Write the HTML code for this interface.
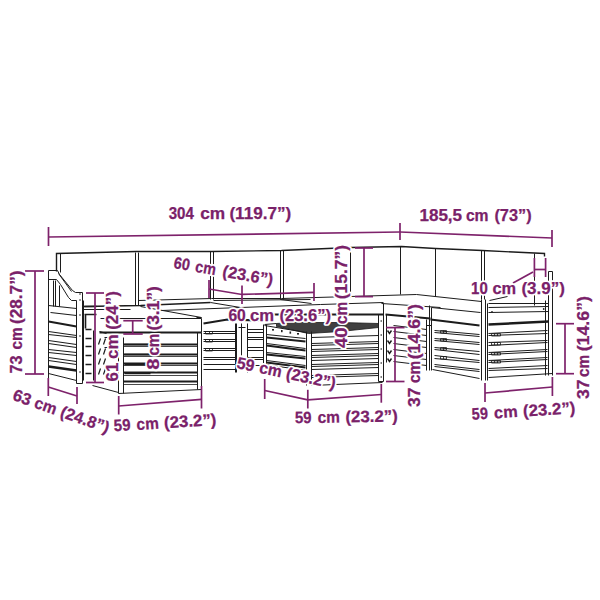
<!DOCTYPE html>
<html><head><meta charset="utf-8"><style>
html,body{margin:0;padding:0;background:#fff;width:600px;height:600px;overflow:hidden}
svg{display:block;opacity:0.999}
text{font-family:"Liberation Sans",sans-serif;font-weight:bold;font-size:16.5px;fill:#7a2169;stroke-linejoin:round}
.h{stroke:#fff;stroke-width:3.6px;fill:#fff}
.f{stroke:#7a2169;stroke-width:0.25px}
</style></head><body>
<svg width="600" height="600" viewBox="0 0 600 600">

<g fill="none" stroke="#1c1c1c" stroke-width="1" stroke-linecap="butt">
<!-- back cushions -->
<path d="M 56.5 271.5 V 253.5 L 136.5 251.5 L 211.5 251.5 L 281.5 250.5 L 350.5 247.5 L 401.5 246.5 L 435.5 248.5 L 482.5 250.5 L 544.5 253.5 V 256.5" stroke-width="1.4"/>
<path d="M 60.5 253.5 V 272.5"/>
<path d="M 135.5 252.5 V 305.5 M 138.5 252.5 V 305.5 M 210.5 251.5 V 299.5 M 213.5 251.5 V 299.5 M 280.5 250.5 V 299.5 M 283.5 250.5 V 299.5 M 350.5 247.5 V 297.5 M 400.5 246.5 V 294.5 M 435.5 248.5 V 296.5 M 481.5 250.5 V 299.5 M 484.5 250.5 V 299.5 M 534.5 253.5 V 305.5"/>
<path d="M 138.5 300.5 L 211.5 298.5 L 281.5 298.5 L 350.5 296.5 L 416.5 294.5 L 481.5 301.5"/>
<path d="M 213.5 300.5 L 310.5 299.5"/>
<!-- seat back lines -->
<path d="M 83.5 306.5 L 140.5 305.5 L 210.5 302.5" stroke-width="1.3"/>
<path d="M 210.5 302.5 L 240.5 307.5 M 280.5 299.5 L 311.5 303.5 M 161.5 310.5 L 320.5 304.5 L 383.5 302.5"/>

<!-- P1 left armrest piece -->
<path d="M 48.5 383.5 V 270.5 H 57.5 L 59.5 274.5 L 72.5 290.5 L 75.5 292.5 H 82.5 V 383.5 H 76.5 V 300.5"/>
<path d="M 58.5 273.5 L 71.5 291.5"/>
<path d="M 48.5 279.5 H 56.5 L 60.5 284.5 L 68.5 297.5 L 71.5 300.5 H 76.5"/>
<path d="M 53.5 280.5 V 306.5 M 55.5 280.5 V 306.5 M 59.5 285.5 V 306.5"/>
<path d="M 48.5 373.5 L 76.5 380.5"/>
<g stroke-width="1.1">
<path d="M 48.5 305.5 L 76.5 308.5 M 50.5 312.5 L 76.5 315.5"/>
<path d="M 48.5 321.5 L 76.5 326.5" stroke-width="2.2"/>
<path d="M 48.5 331.5 L 76.5 335.5 M 48.5 334.5 L 76.5 337.5"/>
<path d="M 48.5 340.5 L 76.5 344.5 M 48.5 343.5 L 76.5 347.5"/>
<path d="M 48.5 349.5 L 76.5 352.5 M 48.5 352.5 L 76.5 355.5"/>
<path d="M 48.5 357.5 L 76.5 361.5 M 48.5 360.5 L 76.5 364.5"/>
<path d="M 48.5 366.5 L 76.5 370.5" stroke-width="2.6"/>
</g>
<g fill="#222" stroke="none"><circle cx="80" cy="294" r="0.8"/><circle cx="80" cy="300" r="0.8"/><circle cx="80" cy="315" r="0.8"/><circle cx="80" cy="336" r="0.8"/><circle cx="80" cy="372" r="0.8"/></g>
<!-- piece behind post -->
<path d="M 83.5 300.5 V 380.5 M 93.5 330.5 V 380.5"/>
<g stroke-width="1.6"><path d="M 84.5 306.5 H 96.5 M 84.5 314.5 H 96.5 M 85.5 329.5 H 91.5 M 85.5 338.5 H 91.5 M 85.5 346.5 H 91.5 M 85.5 355.5 H 91.5 M 85.5 364.5 H 91.5 M 85.5 373.5 H 91.5 M 85.5 314.5 V 328.5"/></g>
<!-- ottoman cushion -->
<path d="M 83.5 309.5 L 130.5 309.5 M 140.5 306.5 L 201.5 317.5"/>
<path d="M 100.5 318.5 H 201.5 V 332.5"/>
<path d="M 99.5 332.5 H 201.5" stroke-width="2.2"/>
<!-- ottoman left side (oblique slats) -->
<path d="M 92.5 385.5 L 118.5 392.5"/>
<g stroke-width="1.2"><path d="M 99.5 331.5 L 106.5 333.5 M 98.5 344.5 L 100.5 338.5 M 103.5 344.5 L 105.5 338.5 M 98.5 354.5 L 100.5 348.5 M 103.5 354.5 L 105.5 348.5 M 98.5 364.5 L 100.5 358.5 M 103.5 364.5 L 105.5 358.5 M 98.5 374.5 L 100.5 368.5 M 103.5 374.5 L 105.5 368.5 M 104.5 337.5 H 107.5 M 104.5 347.5 H 107.5"/></g>
<!-- ottoman frame -->
<path d="M 118.5 337.5 V 393.5 M 123.5 337.5 V 393.5 M 197.5 332.5 V 389.5 M 201.5 332.5 V 389.5 M 118.5 393.5 L 201.5 389.5"/>
<g stroke-width="1">
<path d="M 123.5 344.5 H 197.5 M 123.5 354.5 H 197.5 M 123.5 363.5 H 197.5 M 123.5 372.5 H 197.5 M 123.5 381.5 H 197.5" stroke-width="1.8"/>
<path d="M 123.5 346.5 H 197.5 M 123.5 356.5 H 197.5 M 123.5 365.5 H 197.5 M 123.5 375.5 H 197.5 M 123.5 384.5 H 197.5" stroke-width="0.8"/>
<path d="M 124.5 344.5 H 150.5 M 124.5 354.5 H 150.5 M 124.5 364.5 H 150.5 M 124.5 373.5 H 150.5" stroke-width="1.6"/>
</g>
<!-- middle piece front -->
<path d="M 203.5 323.5 L 227.5 319.5 L 262.5 320.5" stroke-width="2.2"/>
<path d="M 196.5 317.5 H 201.5 M 235.5 323.5 V 372.5 M 236.5 323.5 V 372.5 M 247.5 323.5 V 372.5 M 241.5 323.5 V 355.5 M 238.5 327.5 H 245.5"/>
<g stroke-width="1">
<path d="M 203.5 331.5 H 235.5 M 203.5 333.5 H 235.5 M 203.5 339.5 H 235.5 M 203.5 341.5 H 235.5 M 203.5 348.5 H 235.5 M 203.5 350.5 H 235.5 M 203.5 357.5 H 235.5 M 203.5 359.5 H 235.5 M 203.5 364.5 H 235.5 M 203.5 369.5 H 235.5"/>
<path d="M 247.5 329.5 H 263.5 M 247.5 332.5 H 263.5 M 247.5 337.5 H 263.5 M 247.5 339.5 H 263.5 M 247.5 347.5 H 263.5 M 247.5 350.5 H 263.5 M 247.5 357.5 H 263.5 M 247.5 359.5 H 263.5 M 247.5 365.5 H 263.5"/>
</g>
<g stroke-width="0.8"><path d="M 205.5 331.5 h 7 v 2.5 h -7 z M 209.5 331.5 v 2.5 M 205.5 339.5 h 7 v 2.5 h -7 z M 209.5 339.5 v 2.5 M 205.5 348.5 h 7 v 2.5 h -7 z M 209.5 348.5 v 2.5"/></g>
<!-- middle seat cushion front behind table -->
<path d="M 262.5 314.5 H 383.5" stroke-width="2"/>
<!-- coffee table -->
<path d="M 276.5 323.5 L 290.5 322.5 L 340.5 322.5 L 378.5 323.5 L 378.5 327.5 L 340.5 331.5 L 308.5 333.5 L 290.5 329.5 L 276.5 326.5 Z" fill="#404040" stroke-width="0.8"/>
<path d="M 264.5 324.5 L 276.5 323.5 M 264.5 325.5 L 306.5 332.5"/>
<path d="M 263.5 324.5 V 364.5 M 266.5 324.5 V 364.5 M 306.5 331.5 V 385.5 M 311.5 331.5 V 385.5 M 264.5 364.5 L 306.5 370.5 M 311.5 385.5 L 382.5 382.5 M 378.5 314.5 V 381.5 M 378.5 381.5 H 383.5"/>

<g fill="#222" stroke="none"><rect x="272" y="329" width="2" height="1.6"/><rect x="281" y="330" width="1.6" height="2.2"/><rect x="289.5" y="331.5" width="1.6" height="2.2"/><rect x="297" y="333" width="2" height="1.6"/></g>
<g stroke-width="1">
<path d="M 266.5 334.5 L 305.5 338.5 M 266.5 343.5 L 305.5 348.5 M 266.5 352.5 L 305.5 356.5 M 266.5 360.5 L 305.5 365.5"/>
<path d="M 266.5 337.5 L 305.5 341.5 M 266.5 345.5 L 305.5 350.5 M 266.5 354.5 L 305.5 358.5 M 266.5 362.5 L 305.5 367.5" stroke-width="1.8"/>
<path d="M 311.5 337.5 L 378.5 335.5 M 311.5 343.5 L 378.5 341.5 M 311.5 345.5 L 378.5 343.5 M 311.5 349.5 L 378.5 347.5 M 311.5 351.5 L 378.5 349.5 M 311.5 355.5 L 378.5 353.5 M 311.5 357.5 L 378.5 355.5 M 311.5 360.5 L 378.5 358.5 M 311.5 364.5 L 378.5 362.5 M 311.5 366.5 L 378.5 364.5 M 311.5 369.5 L 378.5 367.5 M 311.5 375.5 L 378.5 373.5 M 311.5 377.5 L 378.5 375.5"/>
</g>
<!-- corner piece (x 383-430) -->
<path d="M 381.5 303.5 L 440.5 307.5"/>
<path d="M 385.5 314.5 L 430.5 318.5" stroke-width="2"/>
<path d="M 383.5 303.5 V 381.5 M 386.5 314.5 V 362.5 M 426.5 319.5 V 370.5 M 429.5 305.5 V 370.5 M 431.5 307.5 V 370.5 M 426.5 325.5 H 431.5"/>
<g fill="#222" stroke="none"><circle cx="381.2" cy="321" r="0.8"/><circle cx="381.2" cy="335" r="0.8"/><circle cx="381.2" cy="349" r="0.8"/><circle cx="381.2" cy="363" r="0.8"/><circle cx="381.2" cy="377" r="0.8"/></g>
<g stroke-width="1.4"><path d="M 387.5 330.5 L 389.5 333.5 L 391.5 330.5 M 387.5 340.5 L 389.5 343.5 L 391.5 340.5 M 387.5 350.5 L 389.5 353.5 L 391.5 350.5 M 387.5 358.5 L 389.5 361.5 L 391.5 358.5"/></g>
<g stroke-width="1"><path d="M 393.5 325.5 L 426.5 329.5 M 393.5 331.5 L 426.5 335.5 M 393.5 337.5 L 426.5 341.5 M 393.5 343.5 L 426.5 347.5 M 393.5 349.5 L 426.5 353.5 M 393.5 355.5 L 426.5 359.5 M 393.5 361.5 L 426.5 365.5"/></g>
<!-- middle-right piece x431-480 -->
<path d="M 431.5 307.5 L 480.5 312.5"/>
<path d="M 430.5 319.5 L 479.5 325.5" stroke-width="2.2"/>
<g stroke-width="1"><path d="M 434.5 330.5 L 479.5 334.5 M 434.5 332.5 L 479.5 336.5 M 434.5 338.5 L 479.5 342.5 M 434.5 340.5 L 479.5 344.5 M 434.5 347.5 L 479.5 351.5 M 434.5 349.5 L 479.5 354.5 M 434.5 355.5 L 479.5 360.5 M 434.5 358.5 L 479.5 362.5 M 434.5 364.5 L 479.5 369.5 M 434.5 366.5 L 479.5 371.5"/></g>
<g stroke-width="0.8"><path d="M 440.5 330.5 h 6 v 2.5 h -6 z M 443.5 330.5 v 2.5 M 440.5 338.5 h 6 v 2.5 h -6 z M 443.5 338.5 v 2.5 M 440.5 347.5 h 6 v 2.5 h -6 z M 443.5 347.5 v 2.5 M 440.5 356.5 h 6 v 2.5 h -6 z M 443.5 356.5 v 2.5"/></g>
<path d="M 432.5 369.5 L 479.5 378.5"/>
<!-- right armrest piece -->
<path d="M 481.5 299.5 V 380.5 M 485.5 299.5 V 380.5 M 487.5 303.5 V 380.5 M 545.5 300.5 V 375.5 M 548.5 271.5 V 375.5 M 552.5 271.5 V 375.5 M 548.5 271.5 H 552.5"/>
<path d="M 489.5 300.5 L 507.5 296.5"/>
<path d="M 488.5 303.5 L 548.5 303.5 M 488.5 307.5 L 548.5 306.5 M 488.5 312.5 L 548.5 311.5"/>
<path d="M 488.5 324.5 L 548.5 321.5" stroke-width="2.5"/>
<g fill="#222" stroke="none"><circle cx="492" cy="312" r="0.9"/><circle cx="543.7" cy="309" r="0.9"/></g>
<g stroke-width="1"><path d="M 488.5 333.5 L 547.5 330.5 M 488.5 335.5 L 547.5 333.5 M 488.5 342.5 L 547.5 340.5 M 488.5 345.5 L 547.5 342.5 M 488.5 352.5 L 547.5 349.5 M 488.5 354.5 L 547.5 351.5 M 488.5 360.5 L 547.5 357.5 M 488.5 362.5 L 547.5 359.5 M 488.5 368.5 L 547.5 365.5 M 488.5 370.5 L 547.5 368.5"/></g>
<g stroke-width="0.8"><path d="M 491.5 333.5 h 9 v 2.5 h -9 z M 494.5 333.5 v 2.5 M 497.5 333.5 v 2.5 M 491.5 342.5 h 9 v 2.5 h -9 z M 494.5 342.5 v 2.5 M 497.5 342.5 v 2.5 M 491.5 352.5 h 9 v 2.5 h -9 z M 494.5 352.5 v 2.5 M 497.5 352.5 v 2.5 M 491.5 360.5 h 9 v 2.5 h -9 z M 494.5 360.5 v 2.5 M 497.5 360.5 v 2.5"/></g>
<path d="M 488.5 377.5 L 552.5 373.5"/>

</g>
<g fill="none" stroke="#7e226b" stroke-width="1.7">
<path d="M48.5 237 L400 232"/>
<path d="M48.5 227 V246"/>
<path d="M400 223 V240"/>
<path d="M400 232 L552 238"/>
<path d="M552 230 V247"/>
<path d="M35 271 V374"/>
<path d="M25 271 H44"/>
<path d="M25 374 H44"/>
<path d="M48.3 378 V396"/>
<path d="M77 387 V404"/>
<path d="M48.3 387 L77 396"/>
<path d="M118.7 396 V414.5"/>
<path d="M201.5 386 V408.5"/>
<path d="M118.7 406 L201.5 399.3"/>
<path d="M95 293 V382.5"/>
<path d="M86 293 H104"/>
<path d="M86 382.5 H104"/>
<path d="M123.3 320.7 H142.7"/>
<path d="M123.3 334 H142.7"/>
<path d="M132.7 320.7 V334"/>
<path d="M209 280 V298"/>
<path d="M209 289 L242 294.5"/>
<path d="M242 285.6 V304"/>
<path d="M242 294.4 L314 292.4"/>
<path d="M314 283 V301"/>
<path d="M264.7 379 V399"/>
<path d="M264.7 390.5 L307.8 399.9"/>
<path d="M307.8 389.8 V408.5"/>
<path d="M307.8 399.9 L381.3 394.5"/>
<path d="M381.3 384 V402.7"/>
<path d="M364 248 V296.6"/>
<path d="M355 248 H373"/>
<path d="M355 296.6 H373"/>
<path d="M395 327.6 V381.5"/>
<path d="M386 327.6 H404.5"/>
<path d="M386 381.5 H404.5"/>
<path d="M534.4 258 V277"/>
<path d="M545.6 258 V277"/>
<path d="M534.4 269.5 H545.6"/>
<path d="M533 272 L513 283"/>
<path d="M565 323.7 V373.7"/>
<path d="M556 323.7 H574"/>
<path d="M556 373.7 H574"/>
<path d="M485 383 V402"/>
<path d="M485 393 L552.4 387"/>
<path d="M552.4 377 V396"/>
</g>
<text class="h" transform="translate(169.3,219.4)"><tspan x="-0.60" textLength="25.20" lengthAdjust="spacingAndGlyphs">304</tspan><tspan x="30.90" textLength="25.00" lengthAdjust="spacingAndGlyphs">cm</tspan><tspan x="60.10" textLength="61.90" lengthAdjust="spacingAndGlyphs">(119.7”)</tspan></text>
<text class="h" transform="translate(420,221)"><tspan x="-0.60" textLength="42.70" lengthAdjust="spacingAndGlyphs">185,5</tspan><tspan x="45.90" textLength="22.70" lengthAdjust="spacingAndGlyphs">cm</tspan><tspan x="74.40" textLength="37.20" lengthAdjust="spacingAndGlyphs">(73”)</tspan></text>
<text class="h" transform="translate(22,373) rotate(-90)"><tspan x="-0.60" textLength="18.00" lengthAdjust="spacingAndGlyphs">73</tspan><tspan x="23.40" textLength="22.20" lengthAdjust="spacingAndGlyphs">cm</tspan><tspan x="48.90" textLength="53.70" lengthAdjust="spacingAndGlyphs">(28.7”)</tspan></text>
<text class="h" transform="translate(11.5,399.5) rotate(19.5)"><tspan x="0.20" textLength="18.40" lengthAdjust="spacingAndGlyphs">63</tspan><tspan x="23.20" textLength="22.60" lengthAdjust="spacingAndGlyphs">cm</tspan><tspan x="50.60" textLength="50.80" lengthAdjust="spacingAndGlyphs">(24.8”)</tspan></text>
<text class="h" transform="translate(114.6,431.3) rotate(-3.5)"><tspan x="-0.60" textLength="16.80" lengthAdjust="spacingAndGlyphs">59</tspan><tspan x="22.30" textLength="22.30" lengthAdjust="spacingAndGlyphs">cm</tspan><tspan x="49.80" textLength="52.50" lengthAdjust="spacingAndGlyphs">(23.2”)</tspan></text>
<text class="h" transform="translate(118.3,380.8) rotate(-90)"><tspan x="-0.60" textLength="18.70" lengthAdjust="spacingAndGlyphs">61</tspan><tspan x="21.90" textLength="24.50" lengthAdjust="spacingAndGlyphs">cm</tspan><tspan x="51.00" textLength="38.70" lengthAdjust="spacingAndGlyphs">(24”)</tspan></text>
<text class="h" transform="translate(158.5,369.2) rotate(-90)"><tspan x="-0.60" textLength="11.20" lengthAdjust="spacingAndGlyphs">8</tspan><tspan x="13.60" textLength="22.00" lengthAdjust="spacingAndGlyphs">cm</tspan><tspan x="38.60" textLength="44.50" lengthAdjust="spacingAndGlyphs">(3.1”)</tspan></text>
<text class="h" transform="translate(173.5,268) rotate(10)"><tspan x="-0.60" textLength="16.20" lengthAdjust="spacingAndGlyphs">60</tspan><tspan x="21.40" textLength="20.70" lengthAdjust="spacingAndGlyphs">cm</tspan><tspan x="49.10" textLength="51.00" lengthAdjust="spacingAndGlyphs">(23.6”)</tspan></text>
<text class="h" transform="translate(229,321)"><tspan x="-0.60" textLength="17.40" lengthAdjust="spacingAndGlyphs">60</tspan><tspan x="21.10" textLength="24.10" lengthAdjust="spacingAndGlyphs">cm</tspan><tspan x="50.40" textLength="51.60" lengthAdjust="spacingAndGlyphs">(23.6”)</tspan></text>
<text class="h" transform="translate(236,368) rotate(12)"><tspan x="-0.10" textLength="17.70" lengthAdjust="spacingAndGlyphs">59</tspan><tspan x="22.90" textLength="22.70" lengthAdjust="spacingAndGlyphs">cm</tspan><tspan x="50.40" textLength="50.20" lengthAdjust="spacingAndGlyphs">(23.2”)</tspan></text>
<text class="h" transform="translate(347.2,347.3) rotate(-90)"><tspan x="-0.60" textLength="20.50" lengthAdjust="spacingAndGlyphs">40</tspan><tspan x="23.20" textLength="22.30" lengthAdjust="spacingAndGlyphs">cm</tspan><tspan x="48.00" textLength="54.40" lengthAdjust="spacingAndGlyphs">(15.7”)</tspan></text>
<text class="h" transform="translate(420.2,406.3) rotate(-90)"><tspan x="-0.60" textLength="19.50" lengthAdjust="spacingAndGlyphs">37</tspan><tspan x="23.20" textLength="22.30" lengthAdjust="spacingAndGlyphs">cm</tspan><tspan x="47.00" textLength="55.30" lengthAdjust="spacingAndGlyphs">(14.6”)</tspan></text>
<text class="h" transform="translate(471.7,293.6)"><tspan x="-0.60" textLength="16.70" lengthAdjust="spacingAndGlyphs">10</tspan><tspan x="20.70" textLength="23.70" lengthAdjust="spacingAndGlyphs">cm</tspan><tspan x="49.70" textLength="43.50" lengthAdjust="spacingAndGlyphs">(3.9”)</tspan></text>
<text class="h" transform="translate(589,398.4) rotate(-90)"><tspan x="-0.60" textLength="19.60" lengthAdjust="spacingAndGlyphs">37</tspan><tspan x="21.40" textLength="22.30" lengthAdjust="spacingAndGlyphs">cm</tspan><tspan x="47.10" textLength="55.30" lengthAdjust="spacingAndGlyphs">(14.6”)</tspan></text>
<text class="h" transform="translate(295.5,423.3) rotate(-1)"><tspan x="-0.60" textLength="16.70" lengthAdjust="spacingAndGlyphs">59</tspan><tspan x="22.30" textLength="22.30" lengthAdjust="spacingAndGlyphs">cm</tspan><tspan x="49.90" textLength="52.50" lengthAdjust="spacingAndGlyphs">(23.2”)</tspan></text>
<text class="h" transform="translate(472.7,419.7) rotate(-3.5)"><tspan x="-0.60" textLength="16.10" lengthAdjust="spacingAndGlyphs">59</tspan><tspan x="21.70" textLength="23.70" lengthAdjust="spacingAndGlyphs">cm</tspan><tspan x="50.70" textLength="52.50" lengthAdjust="spacingAndGlyphs">(23.2”)</tspan></text>
<text class="f" transform="translate(169.3,219.4)"><tspan x="-0.60" textLength="25.20" lengthAdjust="spacingAndGlyphs">304</tspan><tspan x="30.90" textLength="25.00" lengthAdjust="spacingAndGlyphs">cm</tspan><tspan x="60.10" textLength="61.90" lengthAdjust="spacingAndGlyphs">(119.7”)</tspan></text>
<text class="f" transform="translate(420,221)"><tspan x="-0.60" textLength="42.70" lengthAdjust="spacingAndGlyphs">185,5</tspan><tspan x="45.90" textLength="22.70" lengthAdjust="spacingAndGlyphs">cm</tspan><tspan x="74.40" textLength="37.20" lengthAdjust="spacingAndGlyphs">(73”)</tspan></text>
<text class="f" transform="translate(22,373) rotate(-90)"><tspan x="-0.60" textLength="18.00" lengthAdjust="spacingAndGlyphs">73</tspan><tspan x="23.40" textLength="22.20" lengthAdjust="spacingAndGlyphs">cm</tspan><tspan x="48.90" textLength="53.70" lengthAdjust="spacingAndGlyphs">(28.7”)</tspan></text>
<text class="f" transform="translate(11.5,399.5) rotate(19.5)"><tspan x="0.20" textLength="18.40" lengthAdjust="spacingAndGlyphs">63</tspan><tspan x="23.20" textLength="22.60" lengthAdjust="spacingAndGlyphs">cm</tspan><tspan x="50.60" textLength="50.80" lengthAdjust="spacingAndGlyphs">(24.8”)</tspan></text>
<text class="f" transform="translate(114.6,431.3) rotate(-3.5)"><tspan x="-0.60" textLength="16.80" lengthAdjust="spacingAndGlyphs">59</tspan><tspan x="22.30" textLength="22.30" lengthAdjust="spacingAndGlyphs">cm</tspan><tspan x="49.80" textLength="52.50" lengthAdjust="spacingAndGlyphs">(23.2”)</tspan></text>
<text class="f" transform="translate(118.3,380.8) rotate(-90)"><tspan x="-0.60" textLength="18.70" lengthAdjust="spacingAndGlyphs">61</tspan><tspan x="21.90" textLength="24.50" lengthAdjust="spacingAndGlyphs">cm</tspan><tspan x="51.00" textLength="38.70" lengthAdjust="spacingAndGlyphs">(24”)</tspan></text>
<text class="f" transform="translate(158.5,369.2) rotate(-90)"><tspan x="-0.60" textLength="11.20" lengthAdjust="spacingAndGlyphs">8</tspan><tspan x="13.60" textLength="22.00" lengthAdjust="spacingAndGlyphs">cm</tspan><tspan x="38.60" textLength="44.50" lengthAdjust="spacingAndGlyphs">(3.1”)</tspan></text>
<text class="f" transform="translate(173.5,268) rotate(10)"><tspan x="-0.60" textLength="16.20" lengthAdjust="spacingAndGlyphs">60</tspan><tspan x="21.40" textLength="20.70" lengthAdjust="spacingAndGlyphs">cm</tspan><tspan x="49.10" textLength="51.00" lengthAdjust="spacingAndGlyphs">(23.6”)</tspan></text>
<text class="f" transform="translate(229,321)"><tspan x="-0.60" textLength="17.40" lengthAdjust="spacingAndGlyphs">60</tspan><tspan x="21.10" textLength="24.10" lengthAdjust="spacingAndGlyphs">cm</tspan><tspan x="50.40" textLength="51.60" lengthAdjust="spacingAndGlyphs">(23.6”)</tspan></text>
<text class="f" transform="translate(236,368) rotate(12)"><tspan x="-0.10" textLength="17.70" lengthAdjust="spacingAndGlyphs">59</tspan><tspan x="22.90" textLength="22.70" lengthAdjust="spacingAndGlyphs">cm</tspan><tspan x="50.40" textLength="50.20" lengthAdjust="spacingAndGlyphs">(23.2”)</tspan></text>
<text class="f" transform="translate(347.2,347.3) rotate(-90)"><tspan x="-0.60" textLength="20.50" lengthAdjust="spacingAndGlyphs">40</tspan><tspan x="23.20" textLength="22.30" lengthAdjust="spacingAndGlyphs">cm</tspan><tspan x="48.00" textLength="54.40" lengthAdjust="spacingAndGlyphs">(15.7”)</tspan></text>
<text class="f" transform="translate(420.2,406.3) rotate(-90)"><tspan x="-0.60" textLength="19.50" lengthAdjust="spacingAndGlyphs">37</tspan><tspan x="23.20" textLength="22.30" lengthAdjust="spacingAndGlyphs">cm</tspan><tspan x="47.00" textLength="55.30" lengthAdjust="spacingAndGlyphs">(14.6”)</tspan></text>
<text class="f" transform="translate(471.7,293.6)"><tspan x="-0.60" textLength="16.70" lengthAdjust="spacingAndGlyphs">10</tspan><tspan x="20.70" textLength="23.70" lengthAdjust="spacingAndGlyphs">cm</tspan><tspan x="49.70" textLength="43.50" lengthAdjust="spacingAndGlyphs">(3.9”)</tspan></text>
<text class="f" transform="translate(589,398.4) rotate(-90)"><tspan x="-0.60" textLength="19.60" lengthAdjust="spacingAndGlyphs">37</tspan><tspan x="21.40" textLength="22.30" lengthAdjust="spacingAndGlyphs">cm</tspan><tspan x="47.10" textLength="55.30" lengthAdjust="spacingAndGlyphs">(14.6”)</tspan></text>
<text class="f" transform="translate(295.5,423.3) rotate(-1)"><tspan x="-0.60" textLength="16.70" lengthAdjust="spacingAndGlyphs">59</tspan><tspan x="22.30" textLength="22.30" lengthAdjust="spacingAndGlyphs">cm</tspan><tspan x="49.90" textLength="52.50" lengthAdjust="spacingAndGlyphs">(23.2”)</tspan></text>
<text class="f" transform="translate(472.7,419.7) rotate(-3.5)"><tspan x="-0.60" textLength="16.10" lengthAdjust="spacingAndGlyphs">59</tspan><tspan x="21.70" textLength="23.70" lengthAdjust="spacingAndGlyphs">cm</tspan><tspan x="50.70" textLength="52.50" lengthAdjust="spacingAndGlyphs">(23.2”)</tspan></text>
</svg></body></html>
